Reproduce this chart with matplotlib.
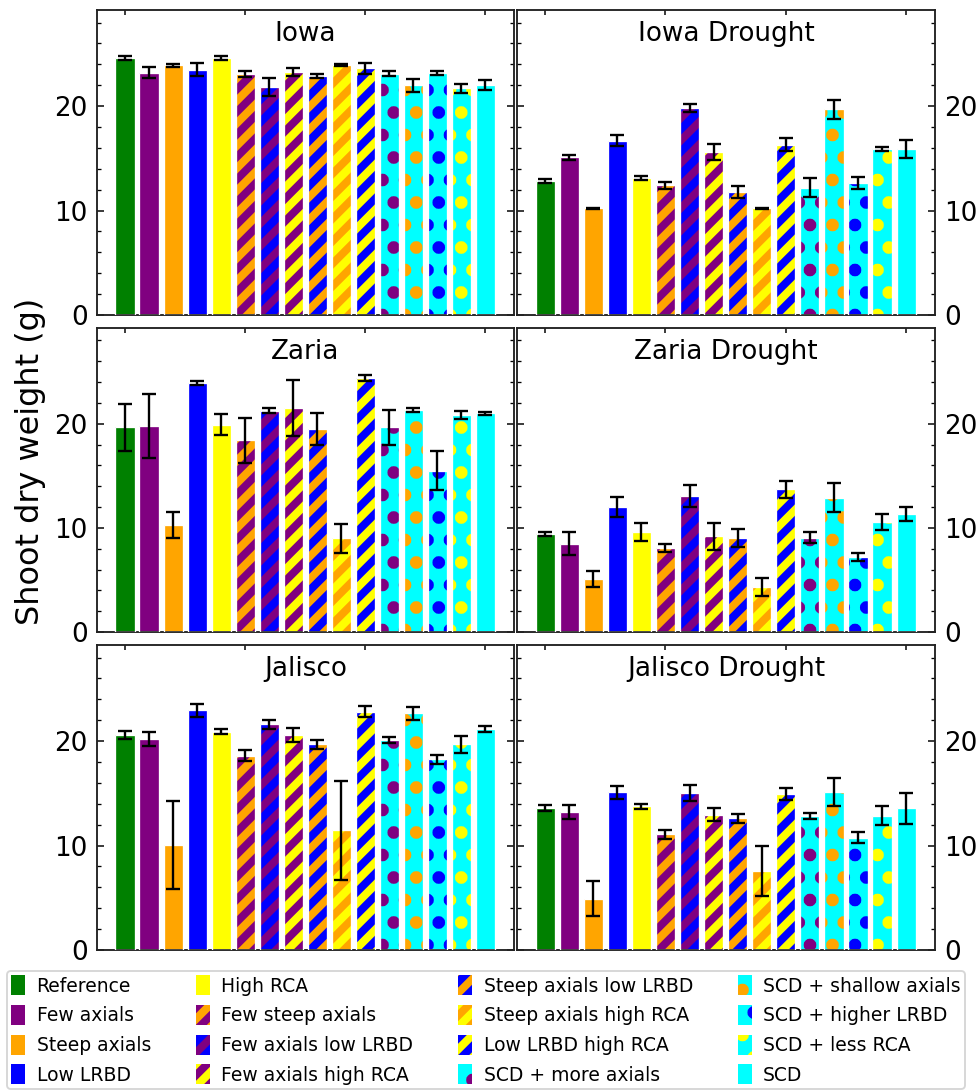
import numpy as np
import matplotlib
matplotlib.use("Agg")
import matplotlib.pyplot as plt
from matplotlib.patches import Patch
from matplotlib.ticker import MultipleLocator

# ---------------------------------------------------------------- data
genotypes = ["Reference", "Few axials", "Steep axials", "Low LRBD", "High RCA",
             "Few steep axials", "Few axials low LRBD", "Few axials high RCA",
             "Steep axials low LRBD", "Steep axials high RCA", "Low LRBD high RCA",
             "SCD + more axials", "SCD + shallow axials", "SCD + higher LRBD",
             "SCD + less RCA", "SCD"]

panel_titles = ["Iowa", "Iowa Drought", "Zaria", "Zaria Drought",
                "Jalisco", "Jalisco Drought"]

iowa_mean = [24.6, 23.2, 23.9, 23.5, 24.6, 23.1, 21.8, 23.3, 22.9, 23.9,
             23.6, 23.1, 22.0, 23.2, 21.7, 22.0]
iowa_err = [0.2, 0.5, 0.15, 0.6, 0.15, 0.3, 0.85, 0.38, 0.2, 0.1,
            0.5, 0.22, 0.62, 0.2, 0.4, 0.48]

iowa_dr_mean = [12.8, 15.1, 10.2, 16.7, 13.1, 12.4, 19.8, 15.6, 11.8, 10.2,
                16.3, 12.2, 19.7, 12.6, 15.9, 15.9]
iowa_dr_err = [0.2, 0.25, 0.05, 0.5, 0.16, 0.37, 0.38, 0.8, 0.56, 0.05,
               0.64, 0.93, 0.93, 0.57, 0.22, 0.83]

zaria_mean = [19.65, 19.8, 10.3, 23.9, 19.9, 18.4, 21.25, 21.5, 19.5, 9.0,
              24.4, 19.65, 21.35, 15.5, 20.8, 21.0]
zaria_err = [2.27, 3.04, 1.23, 0.2, 1.02, 2.16, 0.24, 2.72, 1.5, 1.41,
             0.3, 1.65, 0.2, 1.9, 0.38, 0.16]

zaria_dr_mean = [9.45, 8.5, 5.1, 12.0, 9.6, 8.1, 13.05, 9.2, 9.05, 4.3,
                 13.7, 9.05, 12.9, 7.2, 10.55, 11.35]
zaria_dr_err = [0.19, 1.15, 0.75, 1.0, 0.83, 0.38, 1.06, 1.28, 0.85, 0.86,
                0.8, 0.53, 1.39, 0.4, 0.75, 0.7]

jalisco_mean = [20.6, 20.2, 10.05, 22.95, 20.9, 18.6, 21.6, 20.6, 19.7, 11.45,
                22.8, 20.1, 22.65, 18.25, 19.7, 21.15]
jalisco_err = [0.38, 0.64, 4.2, 0.62, 0.26, 0.54, 0.46, 0.67, 0.45, 4.74,
               0.54, 0.3, 0.64, 0.45, 0.8, 0.32]

jalisco_dr_mean = [13.6, 13.2, 4.9, 15.1, 13.75, 11.1, 15.05, 12.95, 12.6, 7.6,
                   14.9, 12.8, 15.15, 10.75, 12.85, 13.55]
jalisco_dr_err = [0.3, 0.67, 1.66, 0.64, 0.24, 0.43, 0.75, 0.61, 0.4, 2.4,
                  0.58, 0.3, 1.33, 0.53, 0.93, 1.47]

panel_means = [iowa_mean, iowa_dr_mean, zaria_mean, zaria_dr_mean,
               jalisco_mean, jalisco_dr_mean]
panel_errs = [iowa_err, iowa_dr_err, zaria_err, zaria_dr_err,
              jalisco_err, jalisco_dr_err]

# ---------------------------------------------------------------- styles
face_colors = ["green", "purple", "orange", "blue", "yellow",
               "purple", "purple", "purple", "orange", "orange", "blue",
               "cyan", "cyan", "cyan", "cyan", "cyan"]
hatch_colors = [None, None, None, None, None,
                "orange", "blue", "yellow", "blue", "yellow", "yellow",
                "purple", "orange", "blue", "yellow", None]
hatches = [""] * 5 + ["//"] * 6 + ["."] * 4 + [""]

DPI = 135
W, H = 976, 1091
plt.rcParams["font.family"] = ["DejaVu Sans"]
plt.rcParams["hatch.linewidth"] = 4.3

fig = plt.figure(figsize=((W + 0.01) / DPI, (H + 0.01) / DPI), dpi=DPI)

col_x = [(97, 514), (517, 935)]
row_y = [(10, 315), (328, 632), (645, 950)]

x = np.arange(len(genotypes))


def draw_bars(ax, means, errs):
    for i in x:
        hc = hatch_colors[i] if hatch_colors[i] else face_colors[i]
        ax.bar(i, means[i], width=0.8, color=face_colors[i], edgecolor=hc,
               hatch=hatches[i], linewidth=0, zorder=2)
        ax.bar(i, means[i], width=0.8, fill=False, edgecolor="white",
               linewidth=0.7, zorder=3)
    ax.errorbar(x, means, yerr=errs, fmt="none", ecolor="black",
                elinewidth=1.25, capsize=3.7, capthick=1.25, zorder=4)


for k, title in enumerate(panel_titles):
    r, c = divmod(k, 2)
    x0, x1 = col_x[c]
    y0, y1 = row_y[r]
    ax = fig.add_axes([x0 / W, 1 - y1 / H, (x1 - x0) / W, (y1 - y0) / H])
    draw_bars(ax, panel_means[k], panel_errs[k])
    ax.set_xlim(-1.17, 16.2)
    ax.set_ylim(0, 29.2)
    ax.yaxis.set_major_locator(MultipleLocator(10))
    ax.yaxis.set_minor_locator(MultipleLocator(2))
    ax.set_xticks([0, 5, 10, 15])
    ax.tick_params(axis="x", which="both", direction="in", top=True,
                   bottom=False, labelbottom=False, labeltop=False,
                   length=2.7, width=0.8)
    ax.tick_params(axis="y", which="major", direction="in", left=True,
                   right=True, length=3.7, width=0.8, labelsize=14, pad=5)
    ax.tick_params(axis="y", which="minor", direction="in", left=True,
                   right=True, length=2.0, width=0.7)
    if c == 1:
        ax.tick_params(axis="y", which="both", labelleft=False,
                       labelright=True)
    for sp in ax.spines.values():
        sp.set_linewidth(1.0)
        sp.set_color("#222222")
    ax.text(0.5, 0.965, title, transform=ax.transAxes, ha="center",
            va="top", fontsize=14)

fig.text(30 / W, 1 - 461 / H, "Shoot dry weight (g)", rotation=90,
         ha="center", va="center", fontsize=17)

handles = []
for i, name in enumerate(genotypes):
    hc = hatch_colors[i] if hatch_colors[i] else face_colors[i]
    handles.append(Patch(facecolor=face_colors[i], edgecolor=hc,
                         hatch=hatches[i], linewidth=0, label=name))

fig.legend(handles=handles, labels=genotypes, ncol=4, loc="center",
           bbox_to_anchor=(486 / W, 1 - 1030 / H), fontsize=10,
           handlelength=0.75, handleheight=1.25, handletextpad=0.6,
           labelspacing=0.5, columnspacing=2.4, borderaxespad=0.2,
           borderpad=0.22, frameon=True, fancybox=True, edgecolor="#cccccc")

fig.savefig("out.png", dpi=DPI)
